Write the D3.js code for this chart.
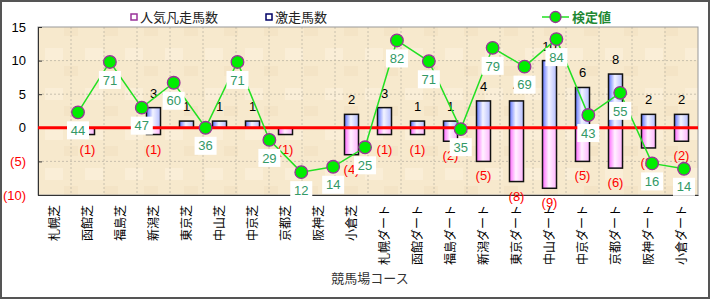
<!DOCTYPE html>
<html>
<head>
<meta charset="utf-8">
<script src="https://cdn.jsdelivr.net/npm/d3@7"></script>
<style>
  body { margin: 0; background: #fff; }
  text { font-family: "Liberation Sans", "Noto Sans CJK JP", sans-serif; }
</style>
</head>
<body>
<script>
var width = 710, height = 299;

// courses (x categories)
var courses = ["札幌芝", "函館芝", "福島芝", "新潟芝", "東京芝", "中山芝", "中京芝", "京都芝", "阪神芝", "小倉芝",
  "札幌ダート", "函館ダート", "福島ダート", "新潟ダート", "東京ダート", "中山ダート", "中京ダート", "京都ダート", "阪神ダート", "小倉ダート"];

// 激走馬数 (drawn upward)
var gekisou = [0, 0, 0, 3, 1, 1, 1, 0, 0, 2, 3, 1, 1, 4, 4, 10, 6, 8, 2, 2];
// 人気凡走馬数 (drawn downward, shown in brackets)
var bonsou = [0, 1, 0, 1, 0, 0, 0, 1, 0, 4, 1, 1, 2, 5, 8, 9, 5, 6, 3, 2];
// 検定値: label shown and height on the chart
var kenteiLabel = [44, 71, 47, 60, 36, 71, 29, 12, 14, 25, 82, 71, 35, 79, 69, 84, 43, 55, 16, 14];
var kenteiPos = [2.3, 9.8, 3.0, 6.7, 0, 9.8, -1.8, -6.6, -5.8, -2.9, 13.0, 9.9, -0.2, 11.9, 9.1, 13.2, 1.9, 5.2, -5.3, -6.1];

var yTicks = [-10, -5, 0, 5, 10, 15];

var svg = d3.select("body").append("svg")
  .attr("width", width)
  .attr("height", height);

var defs = svg.append("defs");
function grad(id, stops) {
  var g = defs.append("linearGradient").attr("id", id)
    .attr("x1", "0%").attr("x2", "100%").attr("y1", "0%").attr("y2", "0%");
  stops.forEach(function(s) {
    g.append("stop").attr("offset", s[0]).attr("stop-color", s[1]);
  });
}
grad("gBlue", [["0%", "#5f73ff"], ["45%", "#f3f4ff"], ["100%", "#b4bcff"]]);
grad("gPink", [["0%", "#ff66ff"], ["45%", "#fff2ff"], ["100%", "#ffb4ff"]]);

// paper texture-ish
var tex = defs.append("pattern").attr("id", "paper")
  .attr("width", 40).attr("height", 40).attr("patternUnits", "userSpaceOnUse");
tex.append("rect").attr("width", 40).attr("height", 40).attr("fill", "#f7e9cd");
tex.append("rect").attr("x", 5).attr("y", 8).attr("width", 18).attr("height", 12).attr("fill", "#fbf1dc").attr("opacity", 0.7);
tex.append("rect").attr("x", 24).attr("y", 26).attr("width", 14).attr("height", 10).attr("fill", "#f3e3c3").attr("opacity", 0.7);

// outer frame
svg.append("rect")
  .attr("x", 1).attr("y", 1).attr("width", width - 2).attr("height", height - 2)
  .attr("fill", "#fff").attr("stroke", "#555").attr("stroke-width", 2);

var plotL = 38, plotR = 698, plotT = 27, plotB = 195;

var x = d3.scaleBand().domain(courses).range([plotL, plotR]);
var xLine = d3.scalePoint().domain(courses).range([78, 684]);
var y = d3.scaleLinear().domain([-10, 15]).range([plotB, plotT]);

svg.append("rect")
  .attr("x", plotL).attr("y", plotT).attr("width", plotR - plotL).attr("height", plotB - plotT)
  .attr("fill", "url(#paper)");

// grid
svg.append("g").selectAll("line").data(courses.slice(1))
  .join("line")
  .attr("x1", function(d) { return x(d); }).attr("x2", function(d) { return x(d); })
  .attr("y1", plotT).attr("y2", plotB)
  .attr("stroke", "#bdb5a5").attr("stroke-dasharray", "2,2").attr("stroke-width", 0.8);
svg.append("g").selectAll("line").data([-5, 5, 10])
  .join("line")
  .attr("x1", plotL).attr("x2", plotR)
  .attr("y1", function(d) { return y(d); }).attr("y2", function(d) { return y(d); })
  .attr("stroke", "#bdb5a5").attr("stroke-dasharray", "2,2").attr("stroke-width", 0.8);

// plot border
svg.append("rect")
  .attr("x", plotL).attr("y", plotT).attr("width", plotR - plotL).attr("height", plotB - plotT)
  .attr("fill", "none").attr("stroke", "#999").attr("stroke-width", 1);

// y axis
var yAxis = svg.append("g").attr("transform", "translate(" + plotL + ",0)")
  .call(d3.axisLeft(y).tickValues(yTicks).tickSize(-4).tickPadding(12)
    .tickFormat(function(d) { return d < 0 ? "(" + (-d) + ")" : d; }));
yAxis.select(".domain").attr("stroke", "#333");
yAxis.selectAll(".tick line").attr("stroke", "#333");
yAxis.selectAll("text")
  .attr("font-size", 13)
  .attr("fill", function(d) { return d < 0 ? "#ff0000" : "#000"; });

// x axis
var xAxis = svg.append("g").attr("transform", "translate(0," + plotB + ")")
  .call(d3.axisBottom(x).tickSize(0).tickFormat(""));
xAxis.select(".domain").attr("stroke", "#333");
svg.append("g").selectAll("text").data(courses)
  .join("text")
  .attr("transform", function(d) {
    return "translate(" + (x(d) + x.bandwidth() / 2 + 4) + ",205) rotate(-90)";
  })
  .attr("text-anchor", "end")
  .attr("font-size", 12)
  .attr("fill", "#000")
  .text(function(d) { return d; });

svg.append("text")
  .attr("x", 370).attr("y", 283)
  .attr("text-anchor", "middle")
  .attr("font-size", 13)
  .attr("fill", "#333")
  .text("競馬場コース");

// bars
var bw = 14;
var bars = svg.append("g");
bars.selectAll("rect.up").data(courses.filter(function(d, i) { return gekisou[i] > 0; }))
  .join("rect").attr("class", "up")
  .attr("x", function(d) { return x(d) + x.bandwidth() / 2 - bw / 2; })
  .attr("y", function(d) { return y(gekisou[courses.indexOf(d)]); })
  .attr("width", bw)
  .attr("height", function(d) { return y(0) - y(gekisou[courses.indexOf(d)]); })
  .attr("fill", "url(#gBlue)").attr("stroke", "#111").attr("stroke-width", 1.5);
bars.selectAll("rect.down").data(courses.filter(function(d, i) { return bonsou[i] > 0; }))
  .join("rect").attr("class", "down")
  .attr("x", function(d) { return x(d) + x.bandwidth() / 2 - bw / 2; })
  .attr("y", y(0))
  .attr("width", bw)
  .attr("height", function(d) { return y(-bonsou[courses.indexOf(d)]) - y(0); })
  .attr("fill", "url(#gPink)").attr("stroke", "#111").attr("stroke-width", 1.5);

// zero line
svg.append("line")
  .attr("x1", plotL).attr("x2", plotR).attr("y1", y(0)).attr("y2", y(0))
  .attr("stroke", "#ff0000").attr("stroke-width", 3);

// bar labels
var labs = svg.append("g").attr("font-size", 13).attr("text-anchor", "middle");
courses.forEach(function(c, i) {
  var cx = x(c) + x.bandwidth() / 2;
  if (gekisou[i] > 0) {
    labs.append("text").attr("x", cx).attr("y", y(gekisou[i]) - 10)
      .attr("fill", "#000").text(gekisou[i]);
  }
  if (bonsou[i] > 0) {
    labs.append("text").attr("x", cx).attr("y", y(-bonsou[i]) + 19)
      .attr("fill", "#ff0000").text("(" + bonsou[i] + ")");
  }
});

// 検定値 line
var line = d3.line()
  .x(function(d, i) { return xLine(courses[i]); })
  .y(function(d) { return y(d); });
svg.append("path").datum(kenteiPos)
  .attr("d", line)
  .attr("fill", "none").attr("stroke", "#22e022").attr("stroke-width", 1.5);
svg.append("g").selectAll("circle").data(kenteiPos)
  .join("circle")
  .attr("cx", function(d, i) { return xLine(courses[i]); })
  .attr("cy", function(d) { return y(d); })
  .attr("r", 6.3)
  .attr("fill", "#00ee00").attr("stroke", "#993399").attr("stroke-width", 1.3);

var pl = svg.append("g").selectAll("g").data(kenteiPos)
  .join("g")
  .attr("transform", function(d, i) {
    return "translate(" + xLine(courses[i]) + "," + (y(d) + 18) + ")";
  });
pl.append("rect")
  .attr("x", -11).attr("y", -9).attr("width", 22).attr("height", 18)
  .attr("fill", "#fff");
pl.append("text")
  .attr("text-anchor", "middle").attr("dy", "0.36em")
  .attr("font-size", 13).attr("fill", "#339966")
  .text(function(d, i) { return kenteiLabel[i]; });

// legend
var lg = svg.append("g").attr("font-size", 13);
lg.append("rect").attr("x", 131).attr("y", 14).attr("width", 6).attr("height", 6)
  .attr("fill", "#fff").attr("stroke", "#993399").attr("stroke-width", 1.5);
lg.append("text").attr("x", 140).attr("y", 22).attr("fill", "#222").text("人気凡走馬数");
lg.append("rect").attr("x", 266).attr("y", 14).attr("width", 6).attr("height", 6)
  .attr("fill", "#fff").attr("stroke", "#000066").attr("stroke-width", 1.5);
lg.append("text").attr("x", 275).attr("y", 22).attr("fill", "#222").text("激走馬数");
lg.append("line").attr("x1", 542).attr("x2", 569).attr("y1", 17).attr("y2", 17)
  .attr("stroke", "#22e022").attr("stroke-width", 1.5);
lg.append("circle").attr("cx", 555.5).attr("cy", 17).attr("r", 5.5)
  .attr("fill", "#00ee00").attr("stroke", "#993399").attr("stroke-width", 1.3);
lg.append("text").attr("x", 572).attr("y", 22).attr("fill", "#228833")
  .attr("font-weight", "bold").text("検定値");
</script>
</body>
</html>
